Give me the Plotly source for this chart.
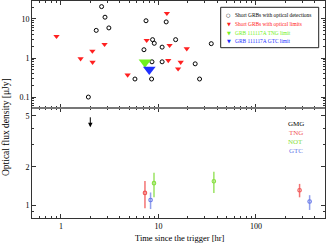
import numpy as np
import plotly.graph_objects as go
from plotly.subplots import make_subplots

# ---- Top panel data ----
det_t = [2.61, 2.83, 2.30, 3.1, 1.91, 5.74, 7.1, 7.45, 8.58, 8.5, 8.7, 9.06, 10.9, 10.9, 12.0, 15.0, 23.8, 26.4, 34.8]
det_f = [20.7, 11.1, 5.1, 5.9, 0.10, 0.29, 1.63, 9.0, 0.80, 0.29, 2.95, 2.38, 1.9, 0.80, 8.4, 2.95, 0.71, 0.29, 2.33]
lim_t = [0.90, 1.59, 2.10, 2.11, 2.80, 4.83, 7.57, 12.2, 13.0, 12.6, 16.9, 15.9, 19.5]
lim_f = [3.6, 0.96, 1.51, 0.78, 2.24, 0.37, 2.83, 14.0, 2.12, 0.87, 0.78, 0.53, 1.73]
tng_lim_t = [7.27]
tng_lim_f = [0.78]
gtc_lim_t = [8.05]
gtc_lim_f = [0.51]

# ---- Bottom panel data ----
gmg_t = [2.0]
gmg_lim = [5.0]
tng_t = [7.27, 280]
tng_f = [1.25, 1.31]
tng_hi = [1.55, 1.47]
tng_lo = [0.95, 1.155]
not_t = [9.0, 37]
not_f = [1.49, 1.54]
not_hi = [1.80, 1.83]
not_lo = [1.155, 1.25]
gtc_t = [8.3, 355]
gtc_f = [1.10, 1.07]
gtc_hi = [1.26, 1.20]
gtc_lo = [0.935, 0.92]

legend_labels = ["Short GRBs with optical detections", "Short GRBs with optical limits",
                 "GRB 111117A TNG limit", "GRB 111117A GTC limit"]
tel_labels = ["GMG", "TNG", "NOT", "GTC"]

C_RED = "#ff2020"
C_GREEN = "#70f020"
C_BLUE = "#2030ff"
C_TNG = "#f05555"
C_NOT = "#88e040"
C_GTC = "#6677e8"
FONT = "Liberation Serif"

W, H = 326, 243
L, R, T, B = 32, 1, 1, 25
split_px = 108
plot_h = H - T - B
d = (H - B - split_px) / plot_h

fig = make_subplots(rows=2, cols=1, shared_xaxes=False, vertical_spacing=0)

fig.add_trace(go.Scatter(x=det_t, y=det_f, mode="markers",
                         marker=dict(symbol="circle-open", size=4, color="black", line=dict(width=1)),
                         showlegend=False), row=1, col=1)
fig.add_trace(go.Scatter(x=lim_t, y=lim_f, mode="markers",
                         marker=dict(symbol="triangle-down", size=5.5, color=C_RED, line=dict(width=0)),
                         showlegend=False), row=1, col=1)
fig.add_trace(go.Scatter(x=tng_lim_t, y=tng_lim_f, mode="markers",
                         marker=dict(symbol="triangle-down", size=11, color=C_GREEN, line=dict(width=0)),
                         showlegend=False), row=1, col=1)
fig.add_trace(go.Scatter(x=gtc_lim_t, y=gtc_lim_f, mode="markers",
                         marker=dict(symbol="triangle-down", size=11, color=C_BLUE, line=dict(width=0)),
                         showlegend=False), row=1, col=1)

def err_trace(t, f, hi, lo, col, ecol):
    return go.Scatter(x=t, y=f, mode="markers",
                      marker=dict(symbol="circle-open", size=3.5, color=col, line=dict(width=1.1)),
                      error_y=dict(type="data", symmetric=False,
                                   array=[h - v for h, v in zip(hi, f)],
                                   arrayminus=[v - l for v, l in zip(f, lo)],
                                   color=ecol, thickness=1.5, width=0),
                      showlegend=False)

fig.add_trace(err_trace(tng_t, tng_f, tng_hi, tng_lo, C_TNG, "rgba(240,80,80,0.8)"), row=2, col=1)
fig.add_trace(err_trace(not_t, not_f, not_hi, not_lo, C_NOT, "rgba(130,220,60,0.8)"), row=2, col=1)
fig.add_trace(err_trace(gtc_t, gtc_f, gtc_hi, gtc_lo, C_GTC, "rgba(100,120,230,0.7)"), row=2, col=1)

minor_x = [v * m for m in (0.1, 1, 10, 100) for v in range(2, 10)]
axis_common = dict(type="log", showline=True, linecolor="#333", linewidth=1, mirror="ticks",
                   ticks="inside", ticklen=4, tickcolor="#333", showgrid=False, zeroline=False,
                   automargin=False, tickfont=dict(family=FONT, size=8, color="black"))
xr = [-0.297, 2.708]
fig.update_xaxes(**axis_common, range=xr, tickvals=[1, 10, 100], ticktext=["1", "10", "100"],
                 minor=dict(ticks="inside", ticklen=2, tickcolor="#333", showgrid=False,
                            tickmode="array", tickvals=minor_x))
fig.update_xaxes(showticklabels=False, row=1, col=1)
fig.update_yaxes(**axis_common)
fig.update_yaxes(range=[-1.28, 1.46], tickvals=[0.1, 1, 10], ticktext=["0.1", "1", "10"],
                 minor=dict(ticks="inside", ticklen=2, tickcolor="#333", showgrid=False, tickmode="array",
                            tickvals=[v * m for m in (0.01, 0.1, 1, 10) for v in range(2, 10)]),
                 row=1, col=1)
fig.update_yaxes(range=[-0.099, 0.76], tickvals=[1, 2, 5], ticktext=["1", "2", "5"],
                 minor=dict(ticks="inside", ticklen=2, tickcolor="#333", showgrid=False, tickmode="array",
                            tickvals=[0.8, 0.9, 3, 4]),
                 row=2, col=1)

fig.update_layout(yaxis=dict(domain=[d, 1]), yaxis2=dict(domain=[0, d]))

px2x = lambda px: (px - L) / (W - L - R)
px2y = lambda py: (H - B - py) / plot_h

shapes = [dict(type="line", xref="paper", yref="paper", x0=0, x1=1, y0=d, y1=d,
               line=dict(color="#777", width=2)),
          dict(type="rect", xref="paper", yref="paper", x0=px2x(220.7), x1=px2x(318.7),
               y0=px2y(47.7), y1=px2y(7.3), line=dict(color="#222", width=1), fillcolor="white")]

ann = []
leg_cols = ["black", C_RED, C_GREEN, C_BLUE]
leg_syms = ["○", "▼", "▼", "▼"]
leg_y = [14.7, 23.8, 32.6, 41.0]
for lab, col, sym, yy in zip(legend_labels, leg_cols, leg_syms, leg_y):
    ann.append(dict(xref="paper", yref="paper", x=px2x(228.5), y=px2y(yy), text=sym, showarrow=False,
                    font=dict(family="DejaVu Sans", size=5, color=col), xanchor="center", yanchor="middle"))
    ann.append(dict(xref="paper", yref="paper", x=px2x(232.5), y=px2y(yy), text=lab, showarrow=False,
                    font=dict(family=FONT, size=5.4, color=col), xanchor="left", yanchor="middle"))

tel_cols = ["black", C_TNG, C_NOT, C_GTC]
tel_y = [124, 133.3, 142, 151]
for lab, col, yy in zip(tel_labels, tel_cols, tel_y):
    ann.append(dict(xref="paper", yref="paper", x=px2x(295.5), y=px2y(yy), text=lab, showarrow=False,
                    font=dict(family=FONT, size=7, color=col), xanchor="center", yanchor="middle"))

# GMG upper limit arrow
for t, lim in zip(gmg_t, gmg_lim):
    ann.append(dict(xref="x2", yref="y2", x=np.log10(t), y=np.log10(lim) - 0.09,
                    axref="x2", ayref="y2", ax=np.log10(t), ay=np.log10(lim),
                    showarrow=True, arrowhead=2, arrowsize=0.9, arrowwidth=1, arrowcolor="black", text=""))

ann.append(dict(xref="paper", yref="paper", x=px2x(6), y=px2y(127), text="Optical flux density [μJy]",
                textangle=-90, showarrow=False, font=dict(family=FONT, size=9.5, color="black"),
                xanchor="center", yanchor="middle"))
ann.append(dict(xref="paper", yref="paper", x=px2x(180), y=px2y(237.5), text="Time since the trigger [hr]",
                showarrow=False, font=dict(family=FONT, size=8.5, color="black"),
                xanchor="center", yanchor="middle"))

fig.update_layout(width=W, height=H, margin=dict(l=L, r=R, t=T, b=B),
                  paper_bgcolor="white", plot_bgcolor="white",
                  shapes=shapes, annotations=ann, showlegend=False)

fig.write_html("out.html", config={"displayModeBar": False},
               post_script="document.body.style.margin='0';document.body.style.overflow='hidden';")
